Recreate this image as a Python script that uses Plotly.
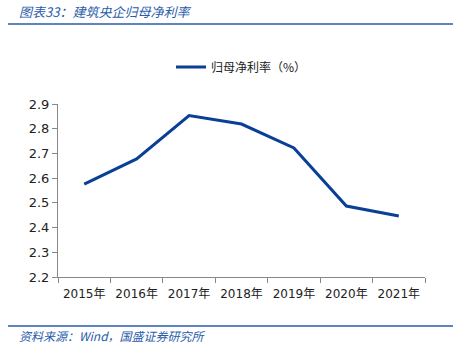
import plotly.graph_objects as go

years = ["2015年", "2016年", "2017年", "2018年", "2019年", "2020年", "2021年"]
net_margin = [2.576, 2.678, 2.853, 2.819, 2.722, 2.487, 2.447]
series_name = "归母净利率（%）"
y_ticks = [2.2, 2.3, 2.4, 2.5, 2.6, 2.7, 2.8, 2.9]

W, H = 453, 347
L, R, T, B = 58, 28, 104, 70

fig = go.Figure()
fig.add_trace(go.Scatter(
    x=years, y=net_margin, mode="lines", name=series_name,
    line=dict(color="#0a3f96", width=3),
))

cjk = "Noto Sans CJK SC"
fig.update_layout(
    width=W, height=H,
    margin=dict(l=L, r=R, t=T, b=B, pad=0),
    paper_bgcolor="white", plot_bgcolor="white",
    font=dict(family="DejaVu Sans, " + cjk, size=12, color="#222222"),
    showlegend=True,
    legend=dict(orientation="h", x=0.5, xanchor="center", y=(H - 67) / H,
                yanchor="middle", yref="container",
                font=dict(family=cjk, size=12, color="#222222"),
                itemwidth=30),
    xaxis=dict(
        type="category", tickson="boundaries", ticks="outside", ticklen=5,
        range=[-0.5, len(years) - 0.5], ticklabelstandoff=6,
        tickcolor="#888888", showline=True, linecolor="#888888", linewidth=1,
        showgrid=False, zeroline=False,
        tickfont=dict(family="DejaVu Sans, " + cjk, size=12, color="#222222"),
    ),
    yaxis=dict(
        range=[2.2, 2.9], tickvals=y_ticks, ticktext=[f"{v:.1f}" for v in y_ticks],
        ticks="outside", ticklen=5, tickcolor="#888888",
        showline=True, linecolor="#888888", linewidth=1,
        showgrid=False, zeroline=False,
        tickfont=dict(family="DejaVu Sans", size=13, color="#222222"),
    ),
)

fig.add_annotation(
    text="图表33：建筑央企归母净利率", xref="paper", yref="paper",
    x=-(L - 17) / (W - L - R), y=1 + (T - 11) / (H - T - B),
    xanchor="left", yanchor="middle", showarrow=False,
    font=dict(family=cjk, size=13, color="#2a5caa", style="italic"),
)
fig.add_annotation(
    text="资料来源：Wind，国盛证券研究所", xref="paper", yref="paper",
    x=-(L - 17) / (W - L - R), y=-(335 - (H - B)) / (H - T - B),
    xanchor="left", yanchor="middle", showarrow=False,
    font=dict(family=cjk, size=12, color="#2a5caa", style="italic"),
)

def px_x(px):
    return (px - L) / (W - L - R)

def px_y(py):
    return (H - B - py) / (H - T - B)

fig.add_shape(type="line", xref="paper", yref="paper",
              x0=px_x(8), x1=px_x(453), y0=px_y(24), y1=px_y(24),
              line=dict(color="#2a5caa", width=1.5))
fig.add_shape(type="line", xref="paper", yref="paper",
              x0=px_x(8), x1=px_x(453), y0=px_y(326), y1=px_y(326),
              line=dict(color="#2a5caa", width=1.5))

fig.write_html("out.html")
